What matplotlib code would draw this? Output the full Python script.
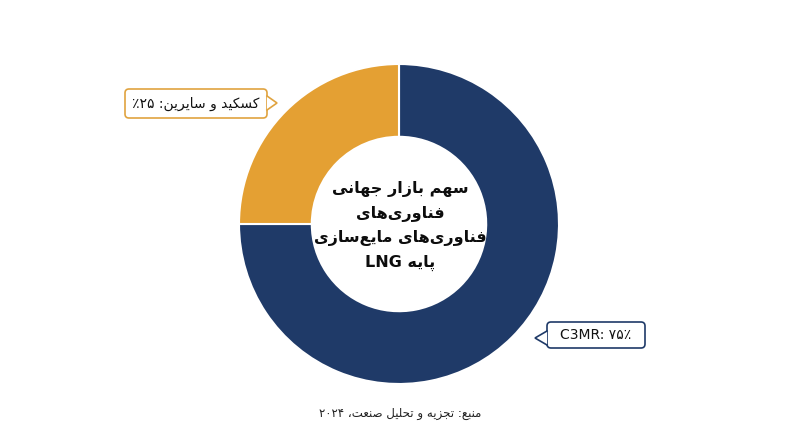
import matplotlib
matplotlib.use("Agg")
import matplotlib.pyplot as plt
from matplotlib.patches import FancyBboxPatch, Polygon
from matplotlib.lines import Line2D

# ---------------- data ----------------
categories = ["C3MR", "کسکید و سایرین"]
shares = [75, 25]
colors = ["#1f3a68", "#e4a033"]
label_texts = ["C3MR: ۷۵٪", "کسکید و سایرین: ۲۵٪"]
center_lines = ["سهم بازار جهانی", "فناوری‌های", "فناوری‌های مایع‌سازی", "پایه LNG"]
source_text = "منبع: تجزیه و تحلیل صنعت، ۲۰۲۴"

# ------------- minimal Persian shaping + bidi -------------
FORMS = {  # iso, fin, ini, med  (None for right-joining)
    "\u0627": ("\uFE8D", "\uFE8E", None, None),
    "\u0628": ("\uFE8F", "\uFE90", "\uFE91", "\uFE92"),
    "\u067E": ("\uFB56", "\uFB57", "\uFB58", "\uFB59"),
    "\u062A": ("\uFE95", "\uFE96", "\uFE97", "\uFE98"),
    "\u062C": ("\uFE9D", "\uFE9E", "\uFE9F", "\uFEA0"),
    "\u062D": ("\uFEA1", "\uFEA2", "\uFEA3", "\uFEA4"),
    "\u062F": ("\uFEA9", "\uFEAA", None, None),
    "\u0631": ("\uFEAD", "\uFEAE", None, None),
    "\u0632": ("\uFEAF", "\uFEB0", None, None),
    "\u0633": ("\uFEB1", "\uFEB2", "\uFEB3", "\uFEB4"),
    "\u0635": ("\uFEB9", "\uFEBA", "\uFEBB", "\uFEBC"),
    "\u0639": ("\uFEC9", "\uFECA", "\uFECB", "\uFECC"),
    "\u0641": ("\uFED1", "\uFED2", "\uFED3", "\uFED4"),
    "\u06A9": ("\uFB8E", "\uFB8F", "\uFB90", "\uFB91"),
    "\u0644": ("\uFEDD", "\uFEDE", "\uFEDF", "\uFEE0"),
    "\u0645": ("\uFEE1", "\uFEE2", "\uFEE3", "\uFEE4"),
    "\u0646": ("\uFEE5", "\uFEE6", "\uFEE7", "\uFEE8"),
    "\u0647": ("\uFEE9", "\uFEEA", "\uFEEB", "\uFEEC"),
    "\u0648": ("\uFEED", "\uFEEE", None, None),
    "\u06CC": ("\uFBFC", "\uFBFD", "\uFBFE", "\uFBFF"),
}


def dual(c):
    return c in FORMS and FORMS[c][2] is not None


def shape(s):
    out = []
    for i, c in enumerate(s):
        if c == "\u200c":
            continue
        if c not in FORMS:
            out.append(c)
            continue
        prev = s[i - 1] if i > 0 else ""
        nxt = s[i + 1] if i + 1 < len(s) else ""
        jp = dual(prev)
        jn = dual(c) and nxt in FORMS
        iso, fin, ini, med = FORMS[c]
        if jp and jn:
            out.append(med)
        elif jp:
            out.append(fin)
        elif jn:
            out.append(ini)
        else:
            out.append(iso)
    return "".join(out)


def is_ltr(c):
    return c.isascii() and c.isalnum() or ("\u06F0" <= c <= "\u06F9")


def rtl(s):
    sh = shape(s)
    runs, cur, cur_ltr = [], "", None
    for c in sh:
        l = is_ltr(c)
        if cur and l != cur_ltr:
            runs.append((cur, cur_ltr))
            cur = ""
        cur += c
        cur_ltr = l
    if cur:
        runs.append((cur, cur_ltr))
    return "".join(r if l else r[::-1] for r, l in reversed(runs))


plt.rcParams["font.family"] = ["DejaVu Sans"]

W, H = 800, 447
fig = plt.figure(figsize=(W / 100, H / 100), dpi=100)
fig.patch.set_facecolor("white")

# donut
cx, cy, R = 399, 224, 160
ax = fig.add_axes([(cx - R) / W, (H - cy - R) / H, 2 * R / W, 2 * R / H])
ax.pie(shares, colors=colors, startangle=90, counterclock=False, radius=1.0,
       wedgeprops=dict(width=0.455, edgecolor="white", linewidth=1.5))
ax.set_xlim(-1, 1)
ax.set_ylim(-1, 1)
ax.set_aspect("equal")
ax.axis("off")

# overlay in pixel coordinates
ov = fig.add_axes([0, 0, 1, 1])
ov.set_xlim(0, W)
ov.set_ylim(H, 0)
ov.axis("off")

center_text = "\n".join(rtl(t) for t in center_lines)
ov.text(cx + 1, cy + 2, center_text, ha="center", va="center", fontsize=11.5,
        fontweight="bold", color="#0d0d0d", linespacing=1.7)


def callout(x0, y0, x1, y1, tip, side, edge, text, rtl_text):
    box = FancyBboxPatch((x0, y0), x1 - x0, y1 - y0,
                         boxstyle="round,pad=0,rounding_size=4",
                         facecolor="white", edgecolor=edge, linewidth=1.2, zorder=3)
    ov.add_patch(box)
    tx, ty = tip
    bx = x1 if side == "right" else x0
    b0, b1 = ty - 7, ty + 7
    ov.add_patch(Polygon([(bx, b0), (tx, ty), (bx, b1)], closed=True,
                         facecolor="white", edgecolor="none", zorder=4))
    ov.add_line(Line2D([bx, tx, bx], [b0, ty, b1], color=edge, linewidth=1.2,
                       zorder=5, solid_joinstyle="miter"))
    ov.text((x0 + x1) / 2, (y0 + y1) / 2, rtl(text) if rtl_text else text,
            ha="center", va="center", fontsize=10, color="#111111", zorder=6)


callout(125, 89, 267, 118, (277, 103), "right", "#e0a33f", label_texts[1], True)
callout(547, 322, 645, 348, (535, 338), "left", "#1f3a68", label_texts[0], False)

ov.text(400, 413, rtl(source_text), ha="center", va="center", fontsize=8.5,
        color="#222222")

fig.savefig("out.png", dpi=100, facecolor="white")
